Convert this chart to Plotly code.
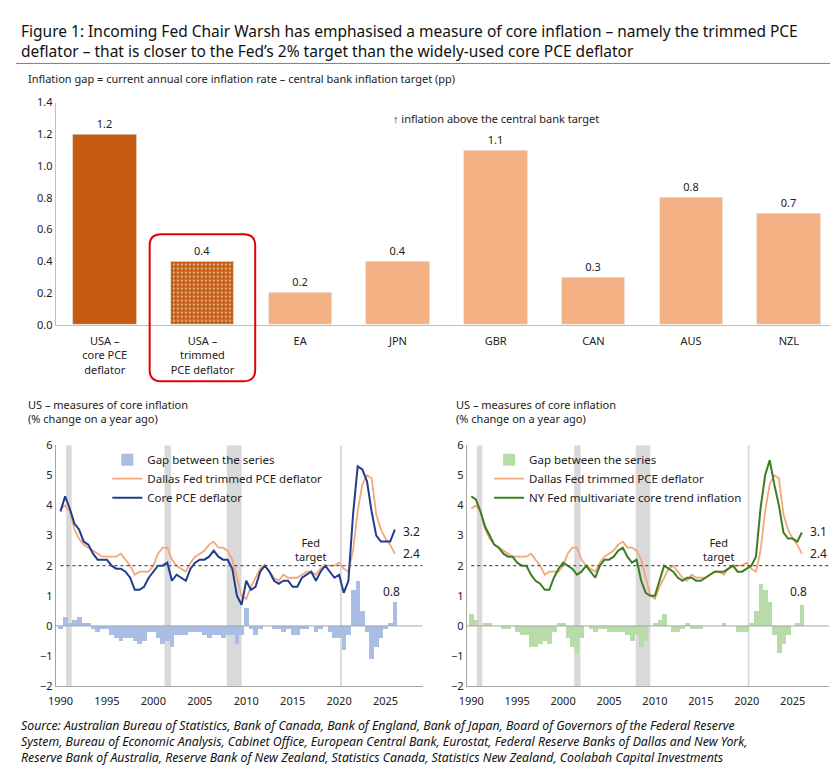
import plotly.graph_objects as go

# ---- top chart data ----
cats = ["USA –<br>core PCE<br>deflator", "USA –<br>trimmed<br>PCE deflator", "EA", "JPN", "GBR", "CAN", "AUS", "NZL"]
gaps = [1.2, 0.4, 0.2, 0.4, 1.1, 0.3, 0.8, 0.7]

# ---- bottom charts data (semi-annual, 1990.0 .. 2026.0) ----
trimmed = [3.9, 4.0, 3.8, 3.2, 2.9, 2.7, 2.6, 2.5, 2.4, 2.3, 2.3, 2.3, 2.3, 2.4, 2.2, 2.0,
           1.7, 1.8, 1.8, 1.8, 2.0, 2.4, 2.6, 2.6, 2.2, 2.0, 1.9, 1.8, 2.1, 2.3, 2.4, 2.5,
           2.7, 2.8, 2.6, 2.6, 2.5, 2.2, 1.6, 1.0, 0.9, 1.3, 1.6, 1.9, 2.0, 1.8, 1.6, 1.5,
           1.7, 1.6, 1.6, 1.6, 1.7, 1.8, 1.8, 1.7, 1.9, 2.0, 2.0, 2.0, 2.1, 1.9, 1.8, 2.5,
           3.8, 4.7, 5.0, 4.9, 3.7, 3.2, 2.9, 2.7, 2.4]
core_pce = [3.8, 4.3, 3.9, 3.4, 3.2, 2.8, 2.7, 2.4, 2.2, 2.2, 2.2, 2.0, 1.9, 1.9, 1.8, 1.6,
            1.2, 1.2, 1.3, 1.6, 1.8, 2.0, 2.0, 2.1, 1.5, 1.7, 1.6, 1.5, 1.9, 2.1, 2.2, 2.2,
            2.3, 2.5, 2.3, 2.2, 2.2, 1.9, 1.0, 0.7, 1.5, 1.2, 1.3, 1.8, 2.0, 1.8, 1.5, 1.4,
            1.5, 1.5, 1.3, 1.3, 1.6, 1.7, 1.8, 1.5, 1.8, 2.0, 1.8, 1.6, 1.7, 1.1, 1.5, 3.7,
            5.3, 5.2, 4.8, 3.8, 3.0, 2.8, 2.8, 2.8, 3.2]
nyfed_mct = [4.3, 4.2, 3.8, 3.3, 3.0, 2.7, 2.6, 2.4, 2.3, 2.3, 2.1, 2.0, 2.0, 1.7, 1.5, 1.4,
             1.2, 1.2, 1.6, 1.9, 2.1, 2.0, 1.9, 1.7, 1.8, 2.0, 1.8, 1.6, 2.0, 2.2, 2.2, 2.3,
             2.5, 2.6, 2.3, 2.1, 2.2, 1.5, 1.1, 1.0, 1.0, 1.5, 2.0, 1.9, 1.8, 1.6, 1.5, 1.6,
             1.6, 1.5, 1.5, 1.6, 1.7, 1.8, 1.8, 1.8, 1.9, 2.0, 1.8, 1.8, 1.9, 2.0, 2.3, 3.9,
             5.0, 5.5, 4.7, 4.0, 3.1, 2.9, 2.9, 2.8, 3.1]
years = [1990 + 0.5 * i for i in range(len(trimmed))]
recessions = [(1990.6, 1991.2), (2001.2, 2001.9), (2007.9, 2009.5), (2020.1, 2020.3)]
x_ticks = [1990, 1995, 2000, 2005, 2010, 2015, 2020, 2025]

gap_left = [round(c - t, 2) for c, t in zip(core_pce, trimmed)]
gap_right = [round(n - t, 2) for n, t in zip(nyfed_mct, trimmed)]

FONT = "Noto Sans"
fig = go.Figure()

colors = ["#C55A11", "#C55A11"] + ["#F4B183"] * 6
fig.add_trace(go.Bar(
    x=list(range(len(cats))), y=gaps, marker=dict(color=colors,
        pattern=dict(shape=["", "."] + [""] * 6, fgcolor="#F4B183", size=4, solidity=0.3)),
    width=0.65, text=[f"{v:.1f}" for v in gaps], textposition="outside",
    textfont=dict(size=11, color="#222"), cliponaxis=False, showlegend=False,
    xaxis="x", yaxis="y"))

for xa, ya, gap, other, gcol, ocol, gname, oname, leg in [
    ("x2", "y2", gap_left, core_pce, "#A9BEE5", "#1F3D8C", "Gap between the series", "Core PCE deflator", "legend"),
    ("x3", "y3", gap_right, nyfed_mct, "#B7DCA8", "#3A7D22", "Gap between the series", "NY Fed multivariate core trend inflation", "legend2")]:
    fig.add_trace(go.Bar(x=years, y=gap, marker=dict(color=gcol, line=dict(width=0)), width=0.5,
                         name=gname, xaxis=xa, yaxis=ya, legend=leg))
    fig.add_trace(go.Scatter(x=years, y=trimmed, mode="lines", line=dict(color="#F4A779", width=1.8),
                             name="Dallas Fed trimmed PCE deflator", xaxis=xa, yaxis=ya, legend=leg))
    fig.add_trace(go.Scatter(x=years, y=other, mode="lines", line=dict(color=ocol, width=2),
                             name=oname, xaxis=xa, yaxis=ya, legend=leg))

shapes = []
for xr, yr in [("x2", "y2"), ("x3", "y3")]:
    for a, b in recessions:
        shapes.append(dict(type="rect", xref=xr, yref=yr, x0=a, x1=b, y0=-2, y1=6,
                           fillcolor="#D9D9D9", line=dict(width=0), layer="below"))
    shapes.append(dict(type="line", xref=xr, yref=yr, x0=1990, x1=2029, y0=2, y1=2,
                       line=dict(color="#555", width=1.2, dash="dot")))
    shapes.append(dict(type="line", xref=xr, yref=yr, x0=1989.5, x1=2029, y0=0, y1=0,
                       line=dict(color="#A6A6A6", width=1)))
shapes.append(dict(type="line", xref="paper", yref="paper", x0=0, x1=1, y0=0.937, y1=0.937,
                   line=dict(color="#7F7F7F", width=1)))
x0, x1, y0, y1, r, ry = 0.46, 1.54, 0.515, 0.71, 0.12, 0.015
shapes.append(dict(type="path", xref="x", yref="paper", line=dict(color="#E00000", width=2),
    path=(f"M {x0+r} {y1} L {x1-r} {y1} Q {x1} {y1} {x1} {y1-ry} L {x1} {y0+ry} "
          f"Q {x1} {y0} {x1-r} {y0} L {x0+r} {y0} Q {x0} {y0} {x0} {y0+ry} "
          f"L {x0} {y1-ry} Q {x0} {y1} {x0+r} {y1} Z")))

ann = [
    dict(text="Figure 1: Incoming Fed Chair Warsh has emphasised a measure of core inflation – namely the trimmed PCE<br>"
              "deflator – that is closer to the Fed’s 2% target than the widely-used core PCE deflator",
         x=0.004, y=0.997, xref="paper", yref="paper", xanchor="left", yanchor="top", align="left",
         showarrow=False, font=dict(size=15.5, color="#111")),
    dict(text="Inflation gap = current annual core inflation rate – central bank inflation target (pp)",
         x=0.012, y=0.93, xref="paper", yref="paper", xanchor="left", yanchor="top", showarrow=False,
         font=dict(size=11)),
    dict(text="↑ inflation above the central bank target", x=4.0, y=1.3, xref="x", yref="y",
         showarrow=False, font=dict(size=11)),
    dict(text="<i>Source: Australian Bureau of Statistics, Bank of Canada, Bank of England, Bank of Japan, Board of Governors of the Federal Reserve<br>"
              "System, Bureau of Economic Analysis, Cabinet Office, European Central Bank, Eurostat, Federal Reserve Banks of Dallas and New York,<br>"
              "Reserve Bank of Australia, Reserve Bank of New Zealand, Statistics Canada, Statistics New Zealand, Coolabah Capital Investments</i>",
         x=0.004, y=0.072, xref="paper", yref="paper", xanchor="left", yanchor="top", align="left",
         showarrow=False, font=dict(size=12.3, color="#111")),
]
for xr, yr, xp, lab1 in [("x2", "y2", 0.012, "3.2"), ("x3", "y3", 0.528, "3.1")]:
    ann.append(dict(text="US – measures of core inflation<br>(% change on a year ago)", x=xp, y=0.497,
                    xref="paper", yref="paper", xanchor="left", yanchor="top", align="left",
                    showarrow=False, font=dict(size=11)))
    ann += [dict(text="Fed<br>target", x=2017, y=2.55, xref=xr, yref=yr, showarrow=False, font=dict(size=11)),
            dict(text=lab1, x=2027.8, y=3.15, xref=xr, yref=yr, showarrow=False, font=dict(size=12)),
            dict(text="2.4", x=2027.8, y=2.4, xref=xr, yref=yr, showarrow=False, font=dict(size=12)),
            dict(text="0.8", x=2025.6, y=1.15, xref=xr, yref=yr, showarrow=False, font=dict(size=12))]

ax_common = dict(showgrid=False, zeroline=False, ticks="", tickfont=dict(size=11))
fig.update_layout(
    width=838, height=768, margin=dict(l=0, r=0, t=0, b=0),
    paper_bgcolor="white", plot_bgcolor="white", font=dict(family=FONT, size=11, color="#222"),
    bargap=0, shapes=shapes, annotations=ann,
    xaxis=dict(domain=[0.048, 0.99], anchor="y", tickvals=list(range(len(cats))), ticktext=cats,
               range=[-0.5, 7.5], showline=True, linecolor="#BFBFBF", ticklabelstandoff=6, **ax_common),
    yaxis=dict(domain=[0.59, 0.885], anchor="x", range=[0, 1.4], dtick=0.2, tickformat=".1f",
               showline=True, linecolor="#BFBFBF", **ax_common),
    xaxis2=dict(domain=[0.048, 0.49], anchor="y2", range=[1989.5, 2029], tickvals=x_ticks,
                showline=True, linecolor="#A6A6A6", ticklabelstandoff=5, **ax_common),
    yaxis2=dict(domain=[0.11, 0.43], anchor="x2", range=[-2, 6], dtick=1, showline=True,
                linecolor="#A6A6A6", **ax_common),
    xaxis3=dict(domain=[0.543, 0.98], anchor="y3", range=[1989.5, 2029], tickvals=x_ticks,
                showline=True, linecolor="#A6A6A6", ticklabelstandoff=5, **ax_common),
    yaxis3=dict(domain=[0.11, 0.43], anchor="x3", range=[-2, 6], dtick=1, showline=True,
                linecolor="#A6A6A6", **ax_common),
    legend=dict(x=0.11, y=0.43, xanchor="left", yanchor="top", bgcolor="rgba(0,0,0,0)",
                font=dict(size=11.5), tracegroupgap=0, itemwidth=30),
    legend2=dict(x=0.57, y=0.43, xanchor="left", yanchor="top", bgcolor="rgba(0,0,0,0)",
                 font=dict(size=11.5), tracegroupgap=0, itemwidth=30),
)
fig.write_html("out.html")
